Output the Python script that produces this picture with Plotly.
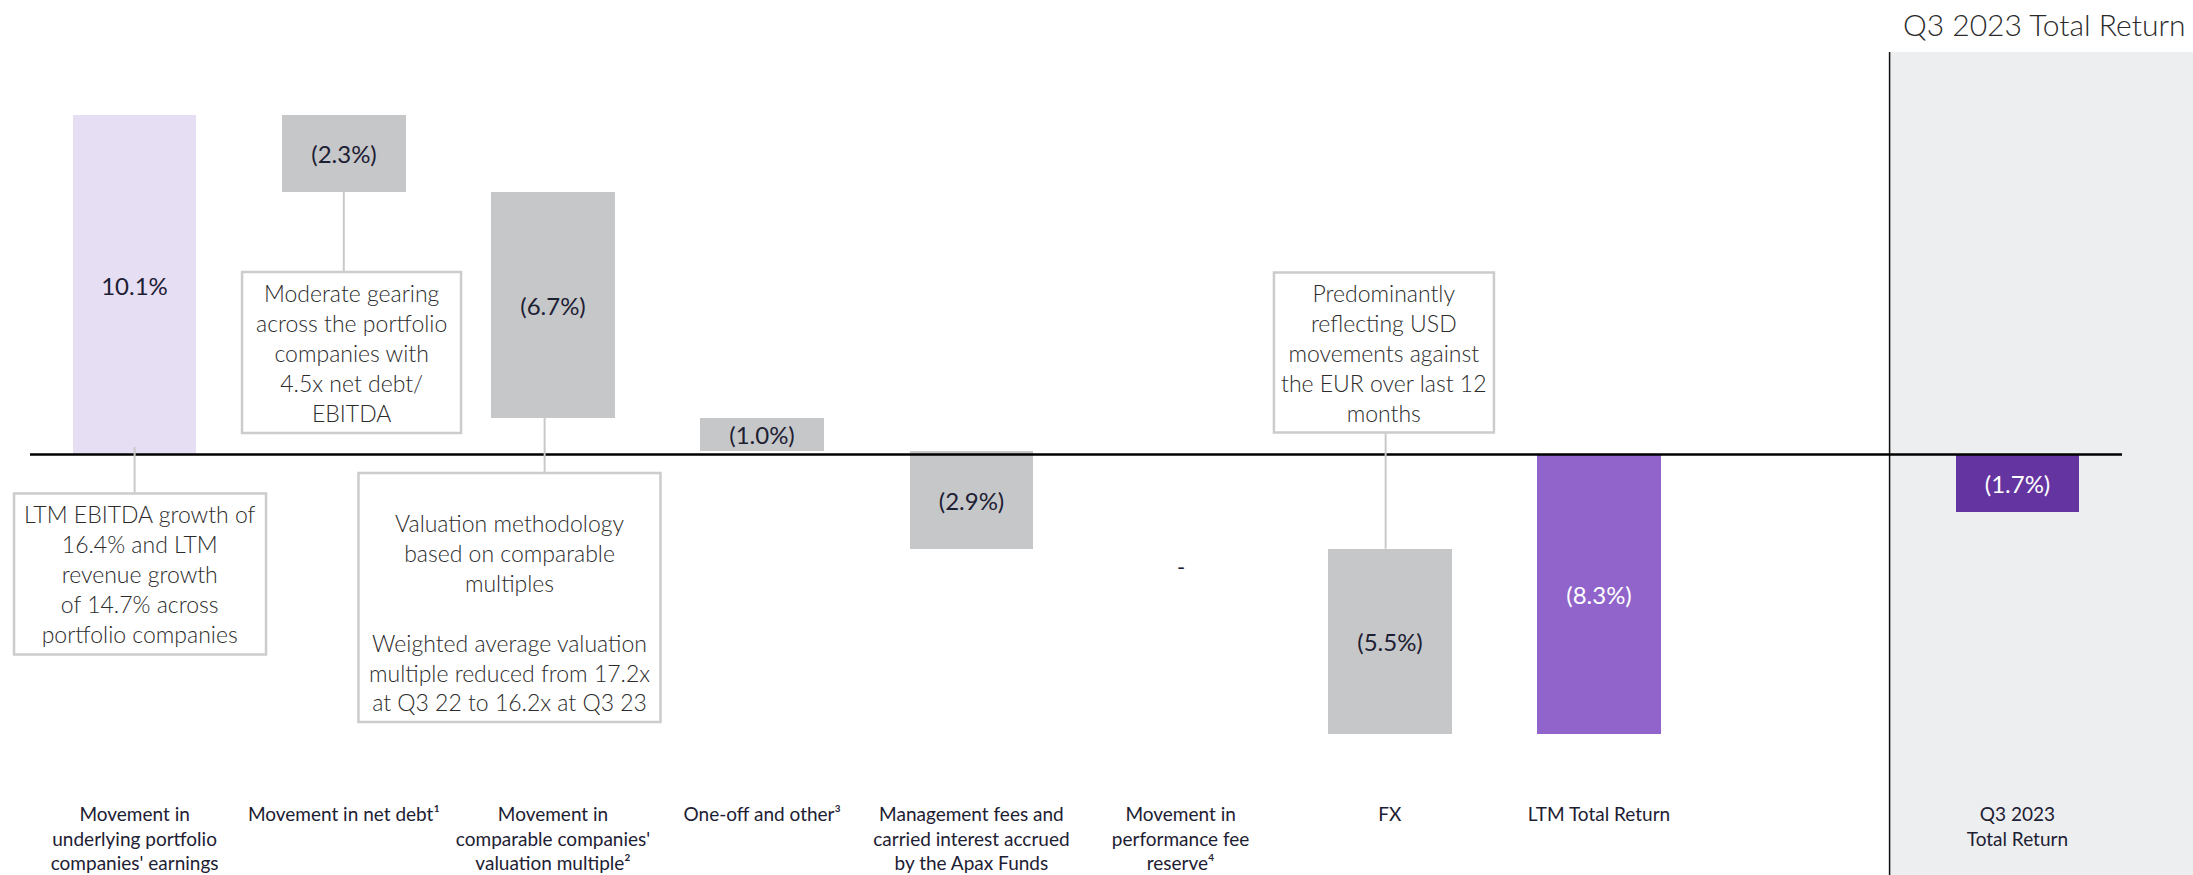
import plotly.graph_objects as go

# ---------------- data ----------------
step_categories = [
    "Movement in<br>underlying portfolio<br>companies' earnings",
    "Movement in net debt¹",
    "Movement in<br>comparable companies'<br>valuation multiple²",
    "One-off and other³",
    "Management fees and<br>carried interest accrued<br>by the Apax Funds",
    "Movement in<br>performance fee<br>reserve⁴",
    "FX",
]
step_values = [10.1, -2.3, -6.7, -1.0, -2.9, 0.0, -5.5]
step_labels = ["10.1%", "(2.3%)", "(6.7%)", "(1.0%)", "(2.9%)", "-", "(5.5%)"]

total_categories = ["LTM Total Return", "Q3 2023<br>Total Return"]
total_values = [-8.3, -1.7]
total_labels = ["(8.3%)", "(1.7%)"]

box_texts = [
    "LTM EBITDA growth of<br>16.4% and LTM<br>revenue growth<br>of 14.7% across<br>portfolio companies",
    "Moderate gearing<br>across the portfolio<br>companies with<br>4.5x net debt/<br>EBITDA",
    "Valuation methodology<br>based on comparable<br>multiples<br> <br>Weighted average valuation<br>multiple reduced from 17.2x<br>at Q3 22 to 16.2x at Q3 23",
    "Predominantly<br>reflecting USD<br>movements against<br>the EUR over last 12<br>months",
]
panel_title = "Q3 2023 Total Return"

# ---------------- styling ----------------
FONT = "Lato"
DARK = "#1d2033"
LAVENDER = "#E6DEF3"
GREY = "#C6C7C9"
MID_PURPLE = "#9064CA"
DEEP_PURPLE = "#6434A1"
CONNECTOR = "#C9C9C9"
BOX_BORDER = "#CCCCCC"

# waterfall geometry computed from the data
bases = []
running = 0.0
for v in step_values:
    bases.append(running)
    running += v
step_x = list(range(len(step_values)))
ltm_x = len(step_values)
q3_x = ltm_x + 2
total_x = [ltm_x, q3_x]

step_colors = [LAVENDER if v > 0 else GREY for v in step_values]
step_text = [t if v != 0 else "" for t, v in zip(step_labels, step_values)]

fig = go.Figure()
fig.add_trace(go.Bar(
    x=step_x, y=step_values, base=bases, width=0.59,
    marker=dict(color=step_colors, line=dict(width=0)),
    text=step_text, textposition="inside", insidetextanchor="middle",
    textangle=0, constraintext="none",
    textfont=dict(family=FONT, size=24, color=DARK),
    hoverinfo="skip", showlegend=False,
))
fig.add_trace(go.Bar(
    x=total_x, y=total_values, base=[0, 0], width=0.59,
    marker=dict(color=[MID_PURPLE, DEEP_PURPLE], line=dict(width=0)),
    text=total_labels, textposition="inside", insidetextanchor="middle",
    textangle=0, constraintext="none",
    textfont=dict(family=FONT, size=24, color="white"),
    hoverinfo="skip", showlegend=False,
))

tickvals = step_x + total_x
ticktext = step_categories + total_categories

# layout geometry
W, H = 2193, 875
margin = dict(l=30, r=71, t=0, b=80, autoexpand=False)
plot_w = W - margin["l"] - margin["r"]
plot_h = H - margin["t"] - margin["b"]
x_range = [-0.5, 9.5]
y_range = [-10.12, 13.51]
ppx = plot_w / (x_range[1] - x_range[0])
ppu = plot_h / (y_range[1] - y_range[0])

def px_paper(x):
    return (x - x_range[0]) / (x_range[1] - x_range[0])

def py_paper(y):
    return (y - y_range[0]) / (y_range[1] - y_range[0])

shapes = []
# grey panel for the quarterly return
shapes.append(dict(type="rect", xref="paper", yref="paper", x0=0.8889, x1=1.05,
                   y0=-0.12, y1=0.9346, fillcolor="#EDEEF0", line=dict(width=0), layer="below"))
shapes.append(dict(type="line", xref="paper", yref="paper", x0=0.8889, x1=0.8889,
                   y0=-0.12, y1=0.9346, line=dict(color="#111111", width=1.5), layer="above"))
# zero line
shapes.append(dict(type="line", xref="paper", yref="y", x0=0, x1=1, y0=0, y1=0,
                   line=dict(color="#000000", width=2.5), layer="above"))

# annotation boxes: (x centre, y centre, width px, height px, text shift px)
boxes = [
    (0.026, -3.55, 252, 161, 0),
    (1.037, 3.03, 219, 161, 0),
    (1.792, -4.25, 302, 249, -15),
    (5.972, 3.03, 220, 160, 0),
]

def box_top(i):
    return boxes[i][1] + (boxes[i][3] / 2) / ppu

def box_bottom(i):
    return boxes[i][1] - (boxes[i][3] / 2) / ppu

ends = [b + v for b, v in zip(bases, step_values)]
connectors = [
    (0, 0.22, box_top(0)),
    (1, ends[1], box_top(1)),
    (1.96, ends[2], box_top(2)),
    (5.98, box_bottom(3), bases[6]),
]
for x, y0, y1 in connectors:
    shapes.append(dict(type="line", xref="x", yref="y", x0=x, x1=x, y0=y0, y1=y1,
                       line=dict(color=CONNECTOR, width=2), layer="above"))

annotations = []
for (bx, by, bw, bh, shift), txt in zip(boxes, box_texts):
    shapes.append(dict(type="rect", xref="paper", yref="paper",
                       x0=px_paper(bx - bw / 2 / ppx), x1=px_paper(bx + bw / 2 / ppx),
                       y0=py_paper(by - bh / 2 / ppu), y1=py_paper(by + bh / 2 / ppu),
                       fillcolor="white", line=dict(color=BOX_BORDER, width=2.5), layer="above"))
    annotations.append(dict(
        x=bx, y=by, xref="x", yref="y", text=txt, showarrow=False,
        xanchor="center", yanchor="middle", yshift=shift, align="center",
        font=dict(family=FONT, size=23, color="#2b2b2b", weight=300),
    ))
# dash for the zero movement
zi = step_values.index(0.0)
annotations.append(dict(x=zi, y=ends[zi], xref="x", yref="y", text=step_labels[zi],
                        showarrow=False, yanchor="top", yshift=-2,
                        font=dict(family=FONT, size=22, color=DARK)))
# panel title
annotations.append(dict(x=1.0316, y=0.9696, xref="paper", yref="paper", text=panel_title,
                        showarrow=False, xanchor="right", yanchor="middle",
                        font=dict(family=FONT, size=30, color="#2b2b2b", weight=300)))

fig.update_layout(
    width=W, height=H,
    margin=margin,
    paper_bgcolor="white", plot_bgcolor="rgba(0,0,0,0)",
    bargap=0, barmode="overlay",
    font=dict(family=FONT, color=DARK),
    xaxis=dict(range=x_range, tickvals=tickvals, ticktext=ticktext,
               showgrid=False, zeroline=False, showline=False, ticks="",
               ticklabelstandoff=6, automargin=False,
               tickfont=dict(family=FONT, size=19, color=DARK), fixedrange=True),
    yaxis=dict(range=y_range, showgrid=False, zeroline=False, showline=False,
               showticklabels=False, ticks="", automargin=False, fixedrange=True),
    shapes=shapes, annotations=annotations,
    showlegend=False,
)

fig.write_html("out.html", config={"displayModeBar": False})
